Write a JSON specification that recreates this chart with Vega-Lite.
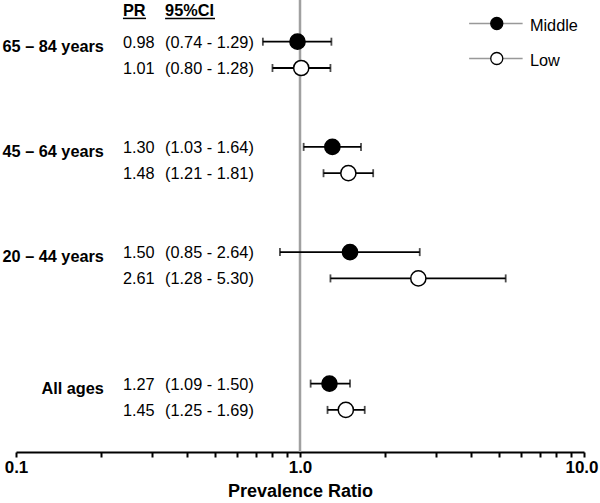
{
  "$schema": "https://vega.github.io/schema/vega-lite/v6.json",
  "width": 568,
  "height": 452,
  "autosize": {"type": "none"},
  "padding": {"left": 16, "top": 0, "right": 16, "bottom": 51},
  "config": {
    "view": {"stroke": null},
    "font": "Liberation Sans",
    "text": {"font": "Liberation Sans", "color": "black"}
  },
  "datasets": {
    "rows": [
      {"row": "65 – 84 years|Middle", "group": "65 – 84 years", "series": "Middle", "pr": 0.98, "lo": 0.74, "hi": 1.29, "prText": "0.98", "ciText": "(0.74 - 1.29)"},
      {"row": "65 – 84 years|Low", "group": "65 – 84 years", "series": "Low", "pr": 1.01, "lo": 0.80, "hi": 1.28, "prText": "1.01", "ciText": "(0.80 - 1.28)"},
      {"row": "45 – 64 years|Middle", "group": "45 – 64 years", "series": "Middle", "pr": 1.30, "lo": 1.03, "hi": 1.64, "prText": "1.30", "ciText": "(1.03 - 1.64)"},
      {"row": "45 – 64 years|Low", "group": "45 – 64 years", "series": "Low", "pr": 1.48, "lo": 1.21, "hi": 1.81, "prText": "1.48", "ciText": "(1.21 - 1.81)"},
      {"row": "20 – 44 years|Middle", "group": "20 – 44 years", "series": "Middle", "pr": 1.50, "lo": 0.85, "hi": 2.64, "prText": "1.50", "ciText": "(0.85 - 2.64)"},
      {"row": "20 – 44 years|Low", "group": "20 – 44 years", "series": "Low", "pr": 2.61, "lo": 1.28, "hi": 5.30, "prText": "2.61", "ciText": "(1.28 - 5.30)"},
      {"row": "All ages|Middle", "group": "All ages", "series": "Middle", "pr": 1.27, "lo": 1.09, "hi": 1.50, "prText": "1.27", "ciText": "(1.09 - 1.50)"},
      {"row": "All ages|Low", "group": "All ages", "series": "Low", "pr": 1.45, "lo": 1.25, "hi": 1.69, "prText": "1.45", "ciText": "(1.25 - 1.69)"}
    ],
    "header": [{"row": "header", "prHead": "PR", "ciHead": "95%CI"}],
    "legendRows": [{"series": "Middle"}, {"series": "Low"}]
  },
  "layer": [
    {
      "data": {"values": [{}]},
      "mark": {"type": "rule", "color": "#a0a0a0", "strokeWidth": 2.5},
      "encoding": {
        "x": {"datum": 1, "type": "quantitative", "scale": {"type": "log", "domain": [0.1, 10]}, "title": "Prevalence Ratio"}
      }
    },
    {
      "data": {"name": "rows"},
      "encoding": {
        "y": {
          "field": "row",
          "type": "nominal",
          "axis": null,
          "scale": {
            "type": "band",
            "domain": ["header", "65 – 84 years|Middle", "65 – 84 years|Low", "gap1", "gap2", "45 – 64 years|Middle", "45 – 64 years|Low", "gap3", "gap4", "20 – 44 years|Middle", "20 – 44 years|Low", "gap5", "gap6", "gap7", "All ages|Middle", "All ages|Low"],
            "paddingInner": 0,
            "paddingOuter": 0.593,
            "align": 0.072
          }
        }
      },
      "layer": [
        {
          "mark": {"type": "rule", "color": "black", "strokeWidth": 1.8},
          "encoding": {
            "x": {"field": "lo", "type": "quantitative", "title": "Prevalence Ratio"},
            "x2": {"field": "hi"}
          }
        },
        {
          "mark": {"type": "tick", "color": "black", "size": 8, "thickness": 1.8, "orient": "vertical"},
          "encoding": {"x": {"field": "lo", "type": "quantitative", "title": "Prevalence Ratio"}}
        },
        {
          "mark": {"type": "tick", "color": "black", "size": 8, "thickness": 1.8, "orient": "vertical"},
          "encoding": {"x": {"field": "hi", "type": "quantitative", "title": "Prevalence Ratio"}}
        },
        {
          "mark": {"type": "point", "shape": "circle", "filled": true, "size": 230, "stroke": "black", "strokeWidth": 1.5, "opacity": 1},
          "encoding": {
            "x": {
              "field": "pr",
              "type": "quantitative",
              "title": "Prevalence Ratio",
              "scale": {"type": "log", "domain": [0.1, 10]},
              "axis": {
                "values": [0.1, 0.2, 0.3, 0.4, 0.5, 0.6, 0.7, 0.8, 0.9, 1, 2, 3, 4, 5, 6, 7, 8, 9, 10],
                "labelExpr": "datum.value == 0.1 || datum.value == 1 || datum.value == 10 ? format(datum.value, '.1f') : ''",
                "labelFlush": false,
                "labelOverlap": false,
                "grid": false,
                "domainColor": "black",
                "domainWidth": 2,
                "tickColor": "black",
                "tickWidth": 2,
                "tickSize": 5,
                "labelFont": "Liberation Sans",
                "labelFontSize": 17,
                "labelFontWeight": "bold",
                "labelColor": "black",
                "labelPadding": 2,
                "labelOffset": {"condition": {"test": "datum.value == 10", "value": -2.5}, "value": 0},
                "titleFont": "Liberation Sans",
                "titleFontSize": 18,
                "titleFontWeight": "bold",
                "titleColor": "black",
                "titlePadding": 7
              }
            },
            "fill": {"field": "series", "type": "nominal", "scale": {"domain": ["Middle", "Low"], "range": ["black", "white"]}, "legend": null}
          }
        },
        {
          "transform": [{"filter": "datum.series == 'Middle'"}],
          "mark": {"type": "text", "align": "right", "baseline": "middle", "fontSize": 16.3, "fontWeight": "bold", "yOffset": 5},
          "encoding": {
            "x": {"datum": 0.204, "type": "quantitative"},
            "text": {"field": "group"}
          }
        },
        {
          "mark": {"type": "text", "align": "left", "baseline": "middle", "fontSize": 16.3, "yOffset": 1},
          "encoding": {
            "x": {"datum": 0.238, "type": "quantitative"},
            "text": {"field": "prText"}
          }
        },
        {
          "mark": {"type": "text", "align": "left", "baseline": "middle", "fontSize": 16.3, "yOffset": 1},
          "encoding": {
            "x": {"datum": 0.335, "type": "quantitative"},
            "text": {"field": "ciText"}
          }
        },
        {
          "data": {"name": "header"},
          "mark": {"type": "text", "align": "left", "baseline": "alphabetic", "fontSize": 16.3, "fontWeight": "bold", "yOffset": 1},
          "encoding": {
            "x": {"datum": 0.238, "type": "quantitative"},
            "text": {"field": "prHead"}
          }
        },
        {
          "data": {"name": "header"},
          "mark": {"type": "text", "align": "left", "baseline": "alphabetic", "fontSize": 16.3, "fontWeight": "bold", "yOffset": 1},
          "encoding": {
            "x": {"datum": 0.335, "type": "quantitative"},
            "text": {"field": "ciHead"}
          }
        },
        {
          "data": {"name": "header"},
          "mark": {"type": "rule", "color": "black", "strokeWidth": 1.5, "yOffset": 3},
          "encoding": {
            "x": {"datum": 0.238, "type": "quantitative"},
            "x2": {"datum": 0.287}
          }
        },
        {
          "data": {"name": "header"},
          "mark": {"type": "rule", "color": "black", "strokeWidth": 1.5, "yOffset": 3},
          "encoding": {
            "x": {"datum": 0.335, "type": "quantitative"},
            "x2": {"datum": 0.502}
          }
        }
      ]
    },
    {
      "data": {"name": "legendRows"},
      "encoding": {
        "y": {
          "field": "series",
          "type": "nominal",
          "axis": null,
          "scale": {"type": "point", "domain": ["Middle", "Low"], "range": [23.5, 58.5], "padding": 0}
        }
      },
      "layer": [
        {
          "mark": {"type": "rule", "color": "#999999", "strokeWidth": 1.5},
          "encoding": {
            "x": {"datum": 3.94, "type": "quantitative"},
            "x2": {"datum": 6.08}
          }
        },
        {
          "mark": {"type": "point", "shape": "circle", "filled": true, "size": 145, "stroke": "black", "strokeWidth": 1.3, "opacity": 1},
          "encoding": {
            "x": {"datum": 4.93, "type": "quantitative"},
            "fill": {"field": "series", "type": "nominal", "legend": null}
          }
        },
        {
          "mark": {"type": "text", "align": "left", "baseline": "middle", "fontSize": 16.3, "yOffset": 2.5},
          "encoding": {
            "x": {"datum": 6.45, "type": "quantitative"},
            "text": {"field": "series"}
          }
        }
      ]
    }
  ],
  "resolve": {"scale": {"y": "independent"}}
}
